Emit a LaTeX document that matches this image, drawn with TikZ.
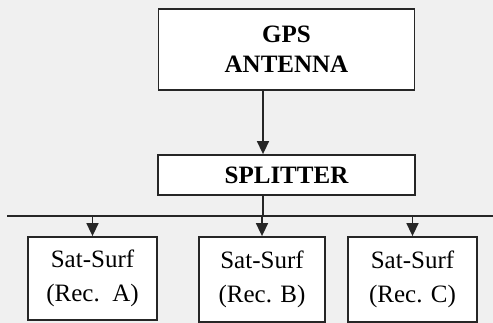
\documentclass[tikz,border=0pt]{standalone}
\usepackage{fontspec}
\setmainfont{Liberation Serif}
\usetikzlibrary{arrows.meta,calc}
\begin{document}
\begin{tikzpicture}[x=1pt,y=-1pt,
  box/.style={draw=black!85,line width=1.8pt,fill=white,inner sep=0pt,align=center},
  bold/.style={font=\fontsize{25}{30}\selectfont\bfseries},
  plain/.style={font=\fontsize{25}{34}\selectfont},
  arr/.style={draw=black!85,line width=1.6pt,-{Triangle[length=13pt,width=12pt]}},
  ln/.style={draw=black!85,line width=1.6pt}]
\fill[black!6] (0,0) rectangle (493,323);
\useasboundingbox (0,0) rectangle (493,323);
\node[box,bold,minimum width=256pt,minimum height=81pt] (gps) at (286.5,49.5) {GPS\\ANTENNA};
\node[box,bold,minimum width=257pt,minimum height=40pt] (split) at (286.5,175) {SPLITTER};
\node[box,plain,minimum width=129pt,minimum height=83pt] (recA) at (92.5,278.5) {Sat-Surf\\(Rec.\ \ A)};
\node[box,plain,minimum width=126pt,minimum height=85pt] (recB) at (262,279.5) {Sat-Surf\\(Rec. B)};
\node[box,plain,minimum width=129pt,minimum height=85pt] (recC) at (412.5,279.5) {Sat-Surf\\(Rec. C)};
\coordinate (t) at (263,0);
\coordinate (busL) at (7,216);
\coordinate (busR) at (493,216);
\draw[arr] (gps.south -| t) -- (split.north -| t);
\draw[ln] (busL) -- (busR);
\draw[ln] (split.south -| t) -- (t |- busL);
\draw[arr] (recA.north |- busL) -- (recA.north);
\draw[arr] (recB.north |- busL) -- (recB.north);
\draw[arr] (recC.north |- busL) -- (recC.north);
\end{tikzpicture}
\end{document}
